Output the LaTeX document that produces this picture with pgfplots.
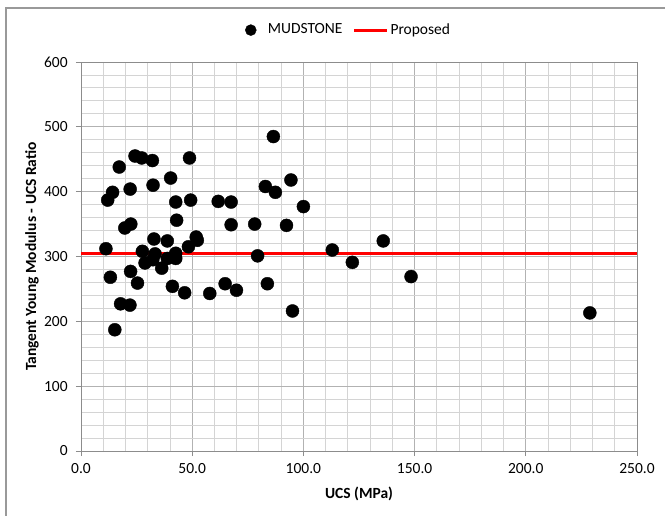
\documentclass[border=0pt]{standalone}
\usepackage{fontspec}
\setmainfont{Carlito}
\usepackage{pgfplots}
\pgfplotsset{compat=1.18}
\begin{document}
\fontsize{15.5}{18}\selectfont
\begin{tikzpicture}
\useasboundingbox (0pt,0pt) rectangle (665pt,-516pt);
\draw[color=black!40, line width=1.3pt] (6pt,-516pt) -- (6pt,-8pt) -- (665pt,-8pt);
\begin{axis}[
  at={(81pt,-451pt)}, anchor=south west,
  scale only axis, width=556pt, height=389pt,
  xmin=0, xmax=250, ymin=0, ymax=600,
  xtick={0,50,...,250}, ytick={0,100,...,600},
  minor x tick num=4, minor y tick num=4,
  grid=both,
  major grid style={color=black!30, line width=0.9pt},
  minor grid style={color=black!17, line width=0.9pt},
  axis line style={color=black!45, line width=0.9pt},
  tick align=outside, tick pos=left,
  major tick length=5pt, minor tick length=0pt,
  tick style={color=black!45, line width=0.9pt},
  /pgf/number format/assume math mode=true,
  x tick label style={/pgf/number format/fixed, /pgf/number format/fixed zerofill, /pgf/number format/precision=1, yshift=-2pt},
  y tick label style={/pgf/number format/fixed, /pgf/number format/precision=0, xshift=-3pt},
  xlabel={\textbf{UCS (MPa)}},
  ylabel={\textbf{Tangent Young Modulus - UCS Ratio}},
  every axis x label/.style={at={(axis description cs:0.5,0)}, anchor=center, yshift=-43pt},
  every axis y label/.style={at={(axis description cs:0,0.5)}, anchor=center, xshift=-49pt, rotate=90},
  legend style={at={(axis description cs:0.481,1.082)}, anchor=center, draw=none, fill=none,
    legend columns=2, /tikz/every even column/.append style={column sep=8pt}},
]
\addplot[only marks, mark=*, mark size=6.5pt, black,
  legend image code/.code={\draw[black, mark size=5.5pt] plot[mark=*, only marks] coordinates {(0pt,0pt)}; \path[draw=none, fill=none] (-6pt,-5pt) rectangle (15pt,5pt);}] table {
x y
11.2 312
12.0 387
13.2 268
14.2 399
15.2 187
17.2 438
17.8 227
19.7 344
22.4 350
22.1 404
22.3 277
22.0 225
24.3 455
27.3 452
25.4 259
27.6 308
28.8 290
32.1 448
32.4 410
32.8 327
33.3 304
32.3 295
36.3 282
38.8 324
38.8 297
40.3 421
41.1 254
42.6 305
42.6 297
42.6 384
43.0 356
46.6 244
48.3 315
48.8 452
49.3 387
51.8 330
52.3 325
57.9 243
61.7 385
64.8 258
67.5 384
67.5 349
69.9 248
78.1 350
79.4 301
82.9 408
83.8 258
86.5 485
87.4 399
92.4 348
94.4 418
95.1 216
100.0 377
113.0 310
122.0 291
135.9 324
148.4 269
228.8 213
};
\addlegendentry{MUDSTONE}
\addplot[color=red, line width=3pt, legend image code/.code={\draw[red, line width=3pt] (0pt,0pt) -- (33pt,0pt);}] coordinates {(0,305) (250,305)};
\addlegendentry{Proposed}
\end{axis}
\end{tikzpicture}
\end{document}
